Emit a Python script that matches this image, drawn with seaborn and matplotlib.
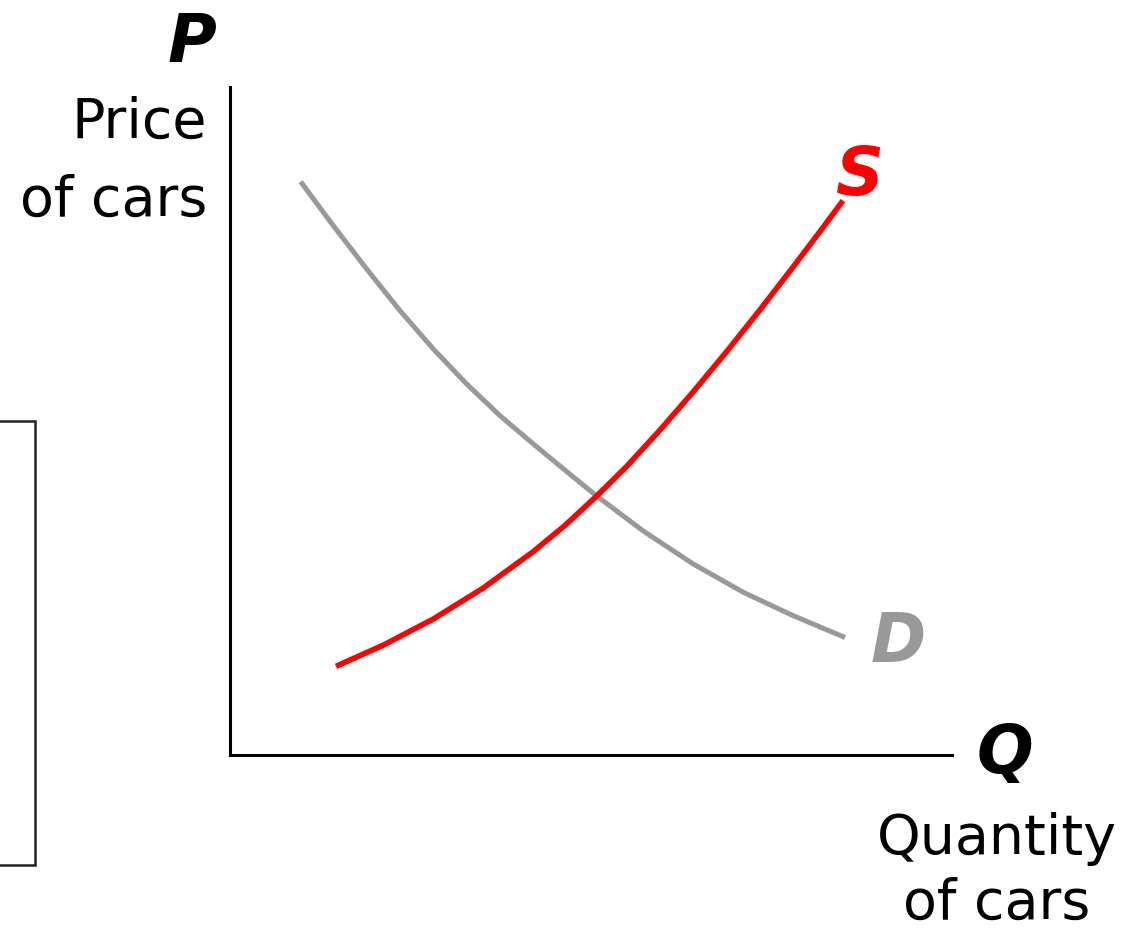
import matplotlib
matplotlib.use("Agg")
import matplotlib.pyplot as plt
from matplotlib.patches import Rectangle
import pandas as pd
import seaborn as sns

# Curvas (cantidad 0-100, precio 0-100)
demand_q = [9.79, 14.31, 18.93, 23.55, 28.16, 32.78, 37.40, 42.01, 47.33, 50.79,
            57.24, 64.17, 71.09, 78.02, 85.18]
demand_p = [85.82, 79.24, 72.75, 66.51, 60.78, 55.54, 50.79, 46.56, 41.81, 38.77,
            33.53, 28.59, 24.36, 20.85, 17.59]

supply_q = [14.68, 21.19, 28.12, 35.04, 41.97, 46.40, 50.79, 54.99, 59.56, 64.13,
            68.84, 73.41, 77.98, 81.72, 84.90]
supply_p = [13.28, 16.42, 20.33, 24.97, 30.42, 34.37, 38.77, 43.26, 48.65, 54.33,
            60.46, 66.65, 73.04, 78.38, 82.99]

RED = "#FF0000"
GRAY = "#999999"

sns.set_style("white")
plt.rcParams["font.family"] = ["DejaVu Sans"]
plt.rcParams["text.color"] = "black"

fig = plt.figure(figsize=(11.31, 9.29), dpi=100)
W, H = 1131, 929
ax = fig.add_axes([230 / W, (H - 756) / H, (952 - 230) / W, (756 - 88) / H])

demand = pd.DataFrame({"q": demand_q, "p": demand_p})
supply = pd.DataFrame({"q": supply_q, "p": supply_p})

sns.lineplot(data=demand, x="q", y="p", color=GRAY, estimator=None, sort=False, ax=ax)
sns.lineplot(data=supply, x="q", y="p", color=RED, estimator=None, sort=False, ax=ax)

# grosor de las curvas (gris ~5 px, rojo ~5.5 px)
for line, lw in zip(ax.lines, (3.6, 4.0)):
    line.set_linewidth(lw)
    line.set_solid_capstyle("butt")
    line.set_solid_joinstyle("round")

ax.set_xlim(0, 100)
ax.set_ylim(0, 100)
ax.set_xticks([])
ax.set_yticks([])
ax.set_xlabel("")
ax.set_ylabel("")
sns.despine(ax=ax)
for side in ("left", "bottom"):
    ax.spines[side].set_linewidth(2.2)
    ax.spines[side].set_color("black")

big = dict(fontsize=48, fontweight="bold", fontstyle="italic", clip_on=False)
ax.text(-5.3, 103.9, "P", ha="center", va="baseline", color="black", **big)
ax.text(87.3, 84.0, "S", ha="center", va="baseline", color=RED, **big)
ax.text(92.5, 14.1, "D", ha="center", va="baseline", color=GRAY, **big)
ax.text(107.3, -2.6, "Q", ha="center", va="baseline", color="black", **big)

txt = dict(fontsize=40, color="black", clip_on=False)
ax.text(-3.2, 92.5, "Price", ha="right", va="baseline", **txt)
ax.text(-3.2, 80.9, "of cars", ha="right", va="baseline", **txt)
ax.text(106.2, -14.6, "Quantity", ha="center", va="baseline", **txt)
ax.text(106.2, -24.3, "of cars", ha="center", va="baseline", **txt)

# Recuadro cortado a la izquierda
fig.patches.append(Rectangle((-10 / W, (H - 866) / H), 45 / W, 444 / H,
                             transform=fig.transFigure, fill=False,
                             edgecolor="#222222", lw=1.8))

fig.savefig("out.png", dpi=100)
